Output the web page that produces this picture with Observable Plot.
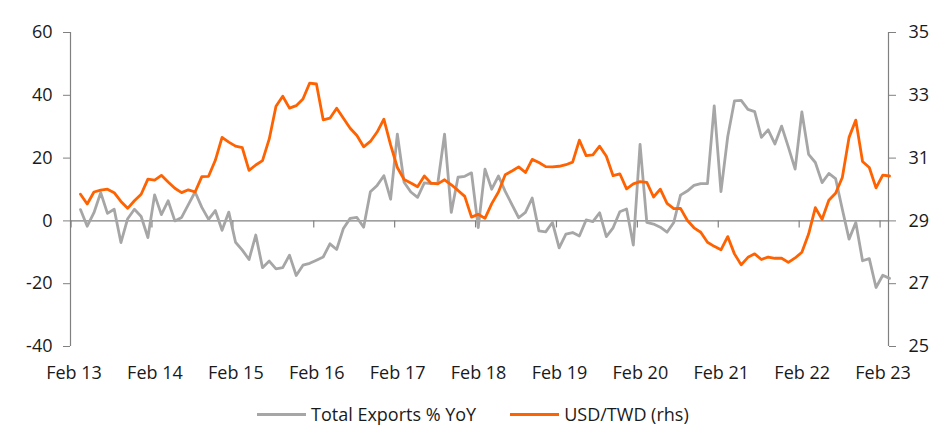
<!DOCTYPE html>
<html><head><meta charset="utf-8">
<script src="https://cdn.jsdelivr.net/npm/d3@7"></script>
<script src="https://cdn.jsdelivr.net/npm/@observablehq/plot@0.6"></script>
<style>
body{margin:0;background:#fff;font-family:"Open Sans",sans-serif;}
#chart{width:952px;height:438px;position:relative;}
.legend{position:absolute;left:257px;top:402px;display:flex;align-items:center;font-size:18px;color:#1a1a1a;}
.item{display:flex;align-items:center;margin-right:34px;}
.swatch{width:49px;height:3px;margin-right:5px;}
</style></head><body>
<div id="chart"></div>
<script>
const tickLabels = ["Feb 13","Feb 14","Feb 15","Feb 16","Feb 17","Feb 18","Feb 19","Feb 20","Feb 21","Feb 22","Feb 23"];
const leftTicks = [-40, -20, 0, 20, 40, 60];
const seriesNames = ["Total Exports % YoY", "USD/TWD (rhs)"];
const exportsYoY = [3.6,-1.7,2.6,9.0,2.4,3.7,-6.9,0.7,3.7,1.4,-5.3,8.3,2.0,6.4,0.0,1.1,5.2,9.2,4.3,0.5,
 3.3,-3.0,2.8,-6.8,-9.3,-12.3,-4.5,-14.9,-12.8,-15.3,-14.9,-10.9,-17.4,-14.1,-13.5,-12.5,-11.5,-7.3,-9.1,-2.4,
 0.8,1.1,-2.0,9.3,11.3,14.4,6.9,27.6,12.3,9.2,7.5,12.1,11.9,12.0,27.6,2.7,13.9,14.2,15.3,-2.1,
 16.5,10.1,14.3,9.4,5.2,1.0,2.7,7.3,-3.2,-3.5,-0.5,-8.6,-4.2,-3.7,-4.8,0.3,-0.2,2.6,-5.0,-2.2,
 2.9,3.8,-7.7,24.4,-0.5,-1.0,-2.0,-3.6,-0.5,8.2,9.5,11.3,11.9,11.9,36.6,9.3,26.8,38.2,38.4,35.5,
 34.8,26.6,29.0,24.5,30.2,23.5,16.5,34.7,21.2,18.6,12.2,15.1,13.5,3.7,-5.8,-0.5,-12.7,-12.0,-21.2,-17.3,-18.3];
const usdTwd = [29.85,29.54,29.92,29.98,30.01,29.90,29.62,29.40,29.64,29.85,30.33,30.30,30.45,30.24,30.04,29.90,29.99,29.92,30.41,30.42,
 30.93,31.66,31.51,31.38,31.33,30.61,30.78,30.92,31.61,32.65,32.97,32.59,32.67,32.88,33.39,33.36,32.22,32.27,32.59,32.27,
 31.95,31.72,31.36,31.53,31.83,32.24,31.42,30.70,30.32,30.21,30.09,30.43,30.20,30.18,30.31,30.15,29.97,29.78,29.12,29.21,
 29.08,29.55,29.92,30.47,30.59,30.72,30.54,30.96,30.86,30.73,30.72,30.74,30.79,30.87,31.57,31.08,31.10,31.38,31.06,30.44,
 30.50,30.02,30.18,30.25,30.23,29.76,30.01,29.56,29.39,29.40,29.02,28.78,28.64,28.32,28.19,28.08,28.50,27.95,27.60,27.84,
 27.95,27.77,27.85,27.81,27.81,27.68,27.82,28.00,28.58,29.42,29.05,29.66,29.88,30.38,31.66,32.21,30.89,30.70,30.05,30.46,30.43];

const grey = "#a6a6a6", orange = "#ff6200", axisColor = "#808080";
const xStart = -1.48, xEnd = 119.85, tickOffset = -1.4;
const tickPos = tickLabels.map((_, k) => 12 * k + tickOffset);
const toLeft = v => (v - 29) * 10;
const rows = exportsYoY.map((v, i) => ({i, exp: v, fx: usdTwd[i]}));

const chart = Plot.plot({
  width: 952, height: 395,
  marginLeft: 70, marginRight: 64, marginTop: 32, marginBottom: 49,
  style: {fontFamily: "'Open Sans', sans-serif", fontSize: "18px", color: "#1a1a1a", background: "white"},
  x: {type: "linear", domain: [xStart, xEnd]},
  y: {domain: [-40, 60]},
  marks: [
    Plot.ruleY([0], {stroke: axisColor, strokeWidth: 1.2}),
    Plot.ruleX([xStart], {stroke: axisColor, strokeWidth: 1.2}),
    Plot.ruleX([xEnd], {stroke: axisColor, strokeWidth: 1.2}),
    Plot.ruleX(tickPos, {x: d => d, y1: 0, y2: 0, insetBottom: -7, stroke: axisColor, strokeWidth: 1.2}),
    Plot.axisX(tickPos, {anchor: "bottom", tickSize: 0, tickPadding: 20, dx: 3, label: null,
      tickFormat: d => tickLabels[Math.round((d - tickOffset) / 12)]}),
    Plot.axisY(leftTicks, {anchor: "left", tickSize: 7, tickPadding: 11, stroke: axisColor, label: null,
      tickFormat: d => String(d)}),
    Plot.axisY(leftTicks, {anchor: "right", tickSize: 7, tickPadding: 13, stroke: axisColor, label: null,
      tickFormat: d => String(d / 10 + 29)}),
    Plot.lineY(rows, {x: "i", y: "exp", stroke: grey, strokeWidth: 2.8, strokeLinejoin: "round"}),
    Plot.lineY(rows, {x: "i", y: d => toLeft(d.fx), stroke: orange, strokeWidth: 2.8, strokeLinejoin: "round"})
  ]
});
const root = document.getElementById("chart");
root.appendChild(chart);
const legend = document.createElement("div");
legend.className = "legend";
legend.innerHTML = `<div class="item"><div class="swatch" style="background:${grey}"></div><span>${seriesNames[0]}</span></div>
<div class="item"><div class="swatch" style="background:${orange}"></div><span>${seriesNames[1]}</span></div>`;
root.appendChild(legend);
</script>
</body></html>
